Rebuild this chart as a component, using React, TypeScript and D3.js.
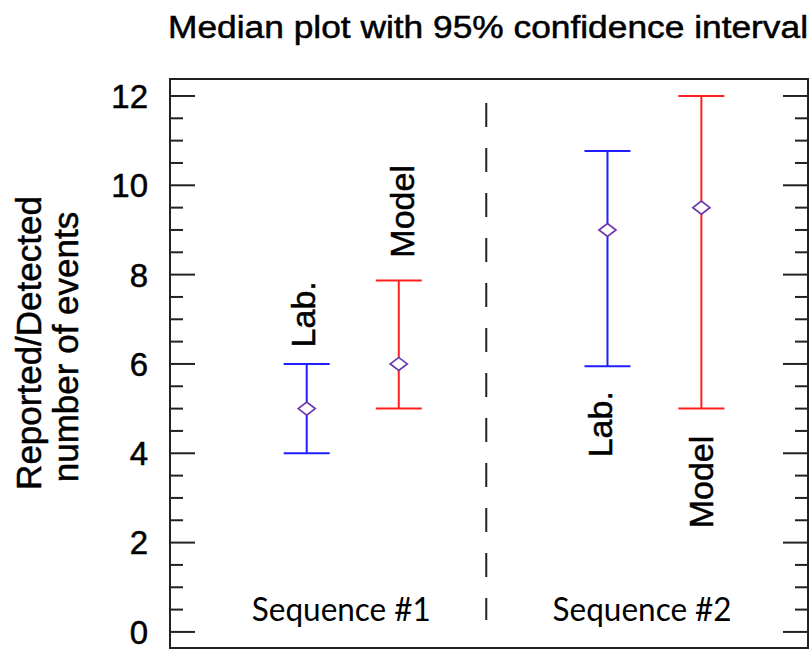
import * as d3 from 'd3';

// groups and their medians with 95% CI
const sources = ['Lab.', 'Model', 'Lab.', 'Model'];
const barX = [1.5, 2.51, 4.8, 5.83];
const medians = [5, 6, 9, 9.5];
const lower = [4, 5, 5.95, 5];
const upper = [6, 7.87, 10.77, 12];
// where the rotated names sit (start value on y, baseline on x)
const labelStart = [6.37, 8.38, 3.91, 2.32];
const labelX = [1.59, 2.68, 4.85, 5.96];

const sequences = ['Sequence #1', 'Sequence #2'];
const sequenceX = [1.88, 5.18];
const dividerX = 3.47;

const yTicks = [0, 2, 4, 6, 8, 10, 12];

const W = 812;
const H = 656;
const frame = { left: 170, top: 79, right: 808, bottom: 648 };
const colors = ['#1f1fff', '#ff1f1f', '#1f1fff', '#ff1f1f'];
const axisColor = '#222';
const sans = '"Liberation Sans", Arial, sans-serif';
// the source text renders a little heavier than plain Liberation Sans
const heavy = { stroke: '#000', strokeWidth: 0.5 };

export default function App() {
  const x = d3.scaleLinear().domain([0, 7]).range([frame.left, frame.right]);
  const y = d3.scaleLinear().domain([-0.36, 12.38]).range([frame.bottom, frame.top]);
  const minor = d3.range(0, 12.01, 0.5);
  const capHalf = 23;

  return (
    <svg
      width={W}
      height={H}
      style={{ position: 'absolute', left: 0, top: 0, display: 'block', background: '#fff' }}
    >
      <text
        x={168}
        y={38}
        fontFamily={sans}
        fontSize={31}
        textLength={640}
        lengthAdjust="spacingAndGlyphs"
        fill="#000"
        {...heavy}
      >
        Median plot with 95% confidence interval
      </text>

      {/* y axis title */}
      <text
        transform="translate(41,343) rotate(-90)"
        textAnchor="middle"
        fontFamily={sans}
        fontSize={35}
        fill="#000"
        {...heavy}
      >
        Reported/Detected
      </text>
      <text
        transform="translate(78,347) rotate(-90)"
        textAnchor="middle"
        fontFamily={sans}
        fontSize={35}
        fill="#000"
        {...heavy}
      >
        number of events
      </text>

      {/* ticks, inward on both sides */}
      {minor.map(v => {
        const major = v % 2 === 0;
        const len = major ? 25 : 13;
        return (
          <g key={v} stroke={axisColor} strokeWidth={2}>
            <line x1={frame.left} x2={frame.left + len} y1={y(v)} y2={y(v)} />
            <line x1={frame.right} x2={frame.right - len} y1={y(v)} y2={y(v)} />
          </g>
        );
      })}
      {yTicks.map(v => (
        <text
          key={v}
          x={148}
          y={y(v)}
          dy="0.36em"
          textAnchor="end"
          fontFamily={sans}
          fontSize={33}
          fill="#000"
          {...heavy}
        >
          {v}
        </text>
      ))}

      {/* divider between sequences */}
      <line
        x1={x(dividerX)}
        x2={x(dividerX)}
        y1={103}
        y2={620}
        stroke={axisColor}
        strokeWidth={2}
        strokeDasharray="24 21"
      />

      {/* error bars */}
      {barX.map((bx, i) => {
        const cx = x(bx);
        const cy = y(medians[i]);
        return (
          <g key={i}>
            <g stroke={colors[i]} strokeWidth={2} fill="none">
              <line x1={cx} x2={cx} y1={y(lower[i])} y2={y(upper[i])} />
              <line x1={cx - capHalf} x2={cx + capHalf} y1={y(upper[i])} y2={y(upper[i])} />
              <line x1={cx - capHalf} x2={cx + capHalf} y1={y(lower[i])} y2={y(lower[i])} />
            </g>
            <path
              d={`M${cx - 8.5},${cy} L${cx},${cy - 6.5} L${cx + 8.5},${cy} L${cx},${cy + 6.5} Z`}
              fill="#fff"
              stroke="#6a35b0"
              strokeWidth={1.7}
            />
            <text
              transform={`translate(${x(labelX[i])},${y(labelStart[i])}) rotate(-90)`}
              fontFamily={sans}
              fontSize={34}
              fill="#000"
              {...heavy}
            >
              {sources[i]}
            </text>
          </g>
        );
      })}

      {sequences.map((s, i) => (
        <text
          key={s}
          x={x(sequenceX[i])}
          y={621}
          textAnchor="middle"
          fontFamily="Lato, 'Open Sans', sans-serif"
          fontSize={33}
          textLength={179}
          lengthAdjust="spacingAndGlyphs"
          fill="#000"
        >
          {s}
        </text>
      ))}

      <rect
        x={frame.left}
        y={frame.top}
        width={frame.right - frame.left}
        height={frame.bottom - frame.top}
        fill="none"
        stroke={axisColor}
        strokeWidth={2}
      />
    </svg>
  );
}
